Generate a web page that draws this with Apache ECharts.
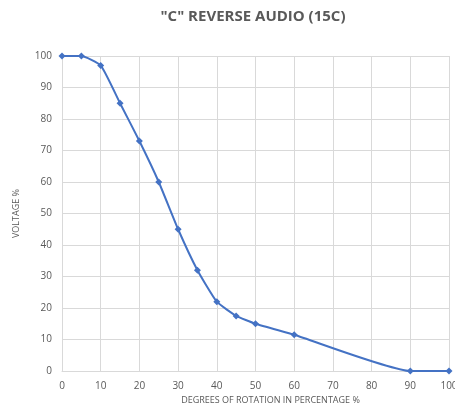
<!DOCTYPE html>
<html>
<head>
<meta charset="utf-8">
<script src="https://cdn.jsdelivr.net/npm/echarts@6/dist/echarts.min.js"></script>
<style>
    html, body { margin: 0; padding: 0; background: #fff; }
    #main { width: 455px; height: 420px; }
</style>
</head>
<body>
<div id="main"></div>
<script>
    // 数据
    var rotation = [0, 5, 10, 15, 20, 25, 30, 35, 40, 45, 50, 60, 90, 100];
    var voltage = [100, 100, 97, 85, 73, 60, 45, 32, 22, 17.5, 15, 11.5, 0, 0];

    var myChart = echarts.init(document.getElementById('main'));

    var points = rotation.map(function(x, i) {
        return [x, voltage[i]];
    });

    var option = {
        animation: false,
        title: {
            text: '"C" REVERSE AUDIO (15C)',
            left: 248,
            top: 4,
            textAlign: 'center',
            textStyle: {
                fontFamily: 'Open Sans',
                fontWeight: 'bold',
                fontSize: 15,
                color: '#595959'
            }
        },
        grid: {
            left: 62,
            right: 6,
            top: 56,
            bottom: 49,
            outerBoundsMode: 'none'
        },
        xAxis: {
            type: 'value',
            min: 0,
            max: 100,
            interval: 10,
            name: 'DEGREES OF ROTATION IN PERCENTAGE %',
            nameLocation: 'middle',
            nameGap: 23,
            nameTextStyle: {
                fontFamily: 'Open Sans',
                fontSize: 9,
                color: '#595959',
                padding: [0, 0, 0, 30]
            },
            axisLine: {
                lineStyle: { color: '#d9d9d9' }
            },
            axisTick: { show: false },
            axisLabel: {
                fontFamily: 'Open Sans',
                fontSize: 10,
                color: '#595959',
                margin: 10
            },
            splitLine: {
                lineStyle: { color: '#d9d9d9' }
            }
        },
        yAxis: {
            type: 'value',
            min: 0,
            max: 100,
            interval: 10,
            name: 'VOLTAGE %',
            nameLocation: 'middle',
            nameGap: 41,
            nameTextStyle: {
                fontFamily: 'Open Sans',
                fontSize: 9,
                color: '#595959'
            },
            axisLine: {
                show: true,
                lineStyle: { color: '#d9d9d9' }
            },
            axisTick: { show: false },
            axisLabel: {
                fontFamily: 'Open Sans',
                fontSize: 10,
                color: '#595959',
                margin: 10
            },
            splitLine: {
                lineStyle: { color: '#d9d9d9' }
            }
        },
        series: [{
            type: 'line',
            data: points,
            smooth: 0.15,
            symbol: 'diamond',
            symbolSize: 7,
            lineStyle: {
                width: 2,
                color: '#4472C4'
            },
            itemStyle: {
                color: '#4472C4'
            }
        }]
    };

    myChart.setOption(option);
</script>
</body>
</html>
